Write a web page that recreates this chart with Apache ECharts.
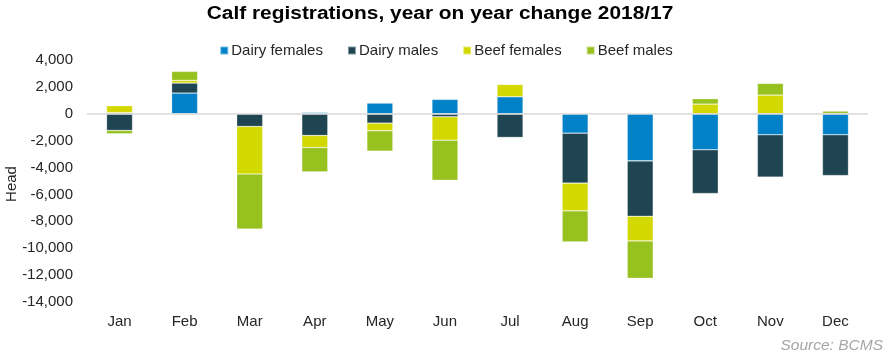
<!DOCTYPE html>
<html>
<head>
<meta charset="utf-8">
<script src="https://cdn.jsdelivr.net/npm/echarts@6/dist/echarts.min.js"></script>
<style>html,body{margin:0;padding:0;background:#fff}#c{width:892px;height:360px}</style>
</head>
<body>
<div id="c"></div>
<script>
const months = ['Jan','Feb','Mar','Apr','May','Jun','Jul','Aug','Sep','Oct','Nov','Dec'];
const dairyFemales = [80, 1540, 0, 100, 795, 1070, 1265, -1440, -3500, -2680, -1565, -1565];
const dairyMales = [-1240, 745, -945, -1615, -695, -225, -1760, -3720, -4120, -3250, -3150, -3030];
const beefFemales = [520, 200, -3530, -895, -570, -1740, 920, -2060, -1835, 720, 1390, 20];
const beefMales = [-250, 670, -4100, -1810, -1515, -2980, 30, -2310, -2780, 400, 870, 180];
const yTicks = {min: -14000, max: 4000, interval: 2000};

const font = '"Liberation Sans", Arial, sans-serif';
const colors = ['#0081C8', '#1F4452', '#D3D800', '#96C11F'];
const names = ['Dairy females', 'Dairy males', 'Beef females', 'Beef males'];
const data = [dairyFemales, dairyMales, beefFemales, beefMales];

const series = data.map((d, i) => ({
  name: names[i],
  type: 'bar',
  stack: 'total',
  barWidth: 26,
  data: d,
  itemStyle: {color: colors[i], borderColor: 'rgba(255,255,255,0.45)', borderWidth: 0.6},
  emphasis: {disabled: true}
}));
series[0].markLine = {
  silent: true, symbol: 'none', label: {show: false},
  lineStyle: {color: '#d9d9d9', type: 'solid', width: 1.5},
  data: [{yAxis: 0}]
};

const chart = echarts.init(document.getElementById('c'), null, {renderer: 'canvas'});
chart.setOption({
  animation: false,
  backgroundColor: '#fff',
  textStyle: {fontFamily: font},
  legend: {
    data: names, top: 38, left: 'center',
    itemWidth: 8, itemHeight: 8, itemGap: 24, icon: 'rect',
    textStyle: {fontFamily: font, fontSize: 15, color: '#262626', padding: [0, 0, 0, -2]}
  },
  graphic: [{
    type: 'text', x: 440, y: 14, scaleX: 1.16, originX: 0,
    style: {text: 'Calf registrations, year on year change 2018/17',
      font: 'bold 18px ' + font, fill: '#000', textAlign: 'center', textVerticalAlign: 'middle'}
  }, {
    type: 'text', x: 883, y: 346,
    style: {text: 'Source: BCMS', font: 'italic 15.5px ' + font, fill: '#a6a6a6',
      textAlign: 'right', textVerticalAlign: 'middle'}
  }, {
    type: 'text', x: 12, y: 184, rotation: Math.PI / 2,
    style: {text: 'Head', font: '15px ' + font, fill: '#262626',
      textAlign: 'center', textVerticalAlign: 'middle'}
  }],
  grid: {left: 87, right: 24, top: 60, bottom: 58, outerBoundsMode: 'none', containLabel: false},
  xAxis: {
    type: 'category', data: months,
    axisLine: {show: false}, axisTick: {show: false},
    axisLabel: {fontFamily: font, fontSize: 15, color: '#262626', margin: 12}
  },
  yAxis: {
    type: 'value', min: yTicks.min, max: yTicks.max, interval: yTicks.interval,
    splitLine: {show: false}, axisLine: {show: false}, axisTick: {show: false},
    axisLabel: {
      fontFamily: font, fontSize: 15, color: '#262626', margin: 14,
      formatter: v => v.toLocaleString('en-US')
    }
  },
  series: series
});
</script>
</body>
</html>
